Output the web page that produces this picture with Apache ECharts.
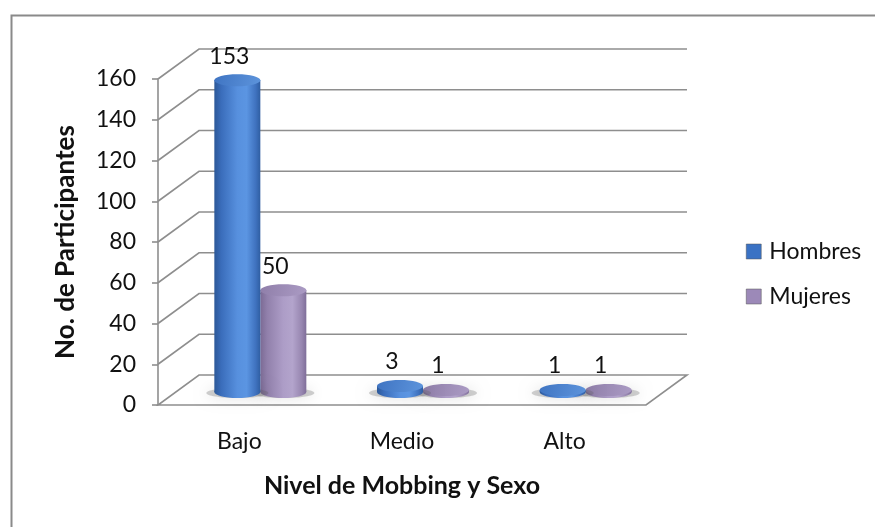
<!DOCTYPE html>
<html>
<head>
<meta charset="utf-8">
<script src="https://cdn.jsdelivr.net/npm/echarts@6/dist/echarts.min.js"></script>
<style>
  html, body { margin: 0; padding: 0; background: #fff; }
  #chart { width: 875px; height: 527px; }
</style>
</head>
<body>
<div id="chart"></div>
<script>
// Participants by mobbing level and sex
const categories = ['Bajo', 'Medio', 'Alto'];
const hombres = [153, 3, 1];
const mujeres = [50, 1, 1];
const seriesNames = ['Hombres', 'Mujeres'];
const yMin = 0, yMax = 160, yStep = 20;

// 3D look: offset of the back wall, and of the row where the cylinders stand
const DEPTH_X = 41, DEPTH_Y = -30;
const MID_X = 21, MID_Y = -13;
const BAR_W = 46, RY = 6;
const FONT = 'Lato, "Open Sans", sans-serif';
const FS = 23;
const GRID_COLOR = '#8e8e8e';

const palette = {
  Hombres: {
    body: ['#2c5898', '#3a6dbb', '#5790de', '#5b95e2', '#3f72bf', '#2f5ea2'],
    top: ['#3f74c2', '#5d94dc'],
    legend: '#3a72c4'
  },
  Mujeres: {
    body: ['#7b6a94', '#9180ab', '#ad9dc7', '#b3a4cc', '#9786b0', '#7f6e99'],
    top: ['#8f7ea9', '#ab9bc4'],
    legend: '#9c89b8'
  }
};

function hGrad(c) {
  return new echarts.graphic.LinearGradient(0, 0, 1, 0, [
    { offset: 0, color: c[0] }, { offset: 0.15, color: c[1] },
    { offset: 0.5, color: c[2] }, { offset: 0.7, color: c[3] },
    { offset: 0.9, color: c[4] }, { offset: 1, color: c[5] }
  ]);
}

// Side wall, back wall gridlines and the floor
function wallRender(params, api) {
  const v = api.value(1);
  const cs = params.coordSys;
  const p = api.coord([0, v]);
  const y = p[1];
  const x0 = cs.x, x1 = cs.x + cs.width;
  const children = [];
  if (v === yMin) {
    children.push({
      type: 'polygon',
      shape: { points: [[x0, y], [x1, y], [x1 + DEPTH_X, y + DEPTH_Y], [x0 + DEPTH_X, y + DEPTH_Y]] },
      style: { fill: '#fff', stroke: GRID_COLOR, lineWidth: 1.6 }
    });
  } else {
    children.push({
      type: 'polyline',
      shape: { points: [[x0, y], [x0 + DEPTH_X, y + DEPTH_Y], [x1 + DEPTH_X, y + DEPTH_Y]] },
      style: { stroke: GRID_COLOR, lineWidth: 1.6, fill: null }
    });
  }
  return { type: 'group', children: children };
}

function cylinderRender(name, offset) {
  const pal = palette[name];
  return function (params, api) {
    const idx = api.value(0), v = api.value(1);
    const base = api.coord([idx, 0]);
    const top = api.coord([idx, v]);
    const cx = base[0] + MID_X + offset;
    const by = base[1] + MID_Y;
    const ty = top[1] + MID_Y;
    const rx = BAR_W / 2;
    return {
      type: 'group',
      children: [
        {
          type: 'ellipse',
          shape: { cx: cx, cy: by + 1, rx: rx + 8, ry: RY - 1 },
          style: { fill: 'rgba(90,90,90,0.28)', shadowBlur: 14, shadowColor: 'rgba(0,0,0,0.45)' },
          silent: true
        },
        {
          type: 'ellipse',
          shape: { cx: cx, cy: by, rx: rx, ry: RY },
          style: { fill: hGrad(pal.body) }
        },
        {
          type: 'rect',
          shape: { x: cx - rx, y: ty, width: BAR_W, height: Math.max(by - ty, 0) },
          style: { fill: hGrad(pal.body) }
        },
        {
          type: 'ellipse',
          shape: { cx: cx, cy: ty, rx: rx, ry: RY },
          style: {
            fill: new echarts.graphic.LinearGradient(0, 0, 1, 1, [
              { offset: 0, color: pal.top[0] }, { offset: 1, color: pal.top[1] }
            ])
          }
        },
        {
          type: 'text',
          style: {
            text: String(v), x: cx - 8, y: ty - 24,
            align: 'center', verticalAlign: 'middle',
            font: FS + 'px ' + FONT, fill: '#111'
          }
        }
      ]
    };
  };
}

const wallData = [];
for (let v = yMin; v <= yMax; v += yStep) wallData.push([0, v]);

const chart = echarts.init(document.getElementById('chart'), null, { renderer: 'canvas' });
chart.setOption({
  animation: false,
  backgroundColor: '#fff',
  graphic: [{
    type: 'rect', left: 9, top: 13,
    shape: { width: 900, height: 600 },
    style: { fill: null, stroke: '#8a8a8a', lineWidth: 2 },
    z: 0
  }],
  grid: { left: 158, right: 229, top: 79, bottom: 122, containLabel: false },
  legend: {
    orient: 'vertical', left: 741, top: 235,
    itemWidth: 15, itemHeight: 15, itemGap: 22, icon: 'rect',
    textStyle: { fontSize: FS, fontFamily: FONT, color: '#111', padding: [0, 0, 0, 3] },
    data: seriesNames.map(n => ({ name: n, itemStyle: { color: palette[n].legend, borderColor: '#555', borderWidth: 0.5 } }))
  },
  xAxis: {
    type: 'category', data: categories,
    name: 'Nivel de Mobbing y Sexo', nameLocation: 'middle', nameGap: 68,
    nameTextStyle: { fontSize: 25, fontWeight: 'bold', fontFamily: FONT, color: '#111' },
    axisLine: { show: false }, axisTick: { show: false },
    axisLabel: { fontSize: FS, fontFamily: FONT, color: '#111', margin: 25 }
  },
  yAxis: {
    type: 'value', min: yMin, max: yMax, interval: yStep,
    name: 'No. de Participantes', nameLocation: 'middle', nameGap: 79, nameRotate: 90,
    nameTextStyle: { fontSize: 26, fontWeight: 'bold', fontFamily: FONT, color: '#111' },
    axisLine: { show: true, lineStyle: { color: GRID_COLOR, width: 1.6 } },
    axisTick: { show: true, inside: false, length: 6, lineStyle: { color: GRID_COLOR, width: 1.6 } },
    splitLine: { show: false },
    axisLabel: { fontSize: FS, fontFamily: FONT, color: '#111', margin: 22 }
  },
  series: [
    {
      name: 'walls', type: 'custom', renderItem: wallRender,
      data: wallData, silent: true, z: 1, legendHoverLink: false
    },
    {
      name: 'Hombres', type: 'custom', renderItem: cylinderRender('Hombres', -23),
      data: hombres.map((v, i) => [i, v]), z: 3,
      itemStyle: { color: palette.Hombres.legend }
    },
    {
      name: 'Mujeres', type: 'custom', renderItem: cylinderRender('Mujeres', 23),
      data: mujeres.map((v, i) => [i, v]), z: 2,
      itemStyle: { color: palette.Mujeres.legend }
    }
  ]
});
</script>
</body>
</html>
